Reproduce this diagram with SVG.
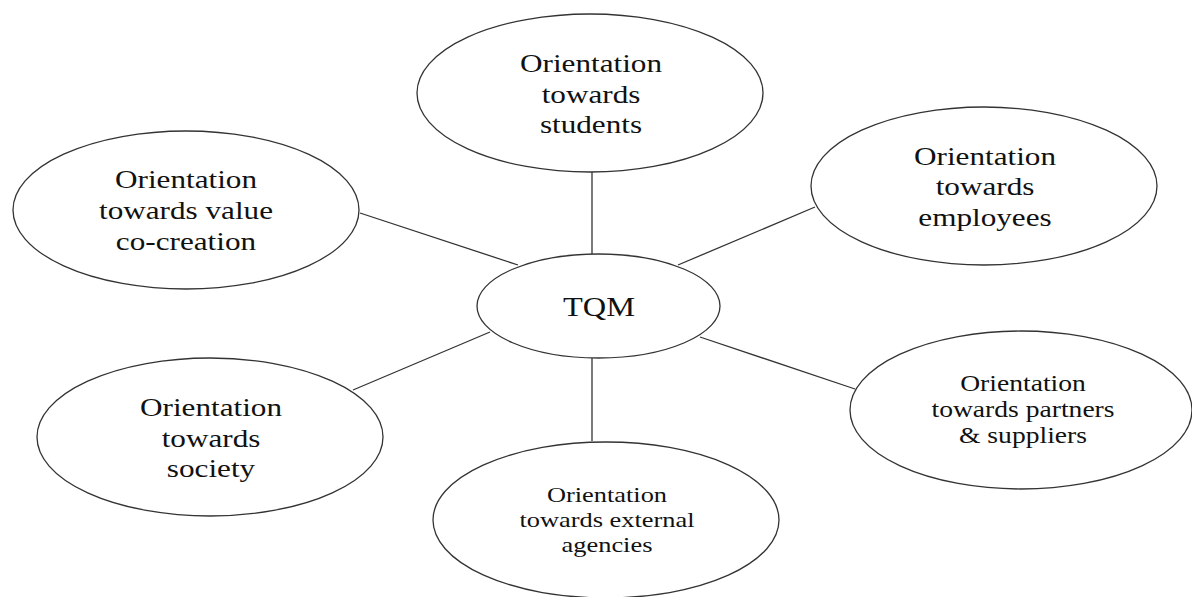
<svg xmlns="http://www.w3.org/2000/svg" width="1192" height="597" viewBox="0 0 1192 597">
<style>
.n{fill:#fff;stroke:#333;stroke-width:1.3}
.c{stroke:#333;stroke-width:1.3;fill:none}
text{font-family:"Liberation Serif","Times New Roman",serif;fill:#111;text-anchor:middle}
.f26{font-size:26px}
.f23{font-size:23px}
.f22{font-size:22px}
.f27{font-size:27px}
</style>
<rect width="1192" height="597" fill="#fff"/>
<g id="connectors">
<line class="c" x1="592" y1="172" x2="592" y2="254"/>
<line class="c" x1="592" y1="358" x2="592" y2="441"/>
<line class="c" x1="360" y1="213" x2="518" y2="265"/>
<line class="c" x1="678" y1="265" x2="815" y2="207"/>
<line class="c" x1="490" y1="332" x2="353" y2="390"/>
<line class="c" x1="700" y1="337" x2="855" y2="389"/>
</g>
<g id="students">
<ellipse class="n" cx="590" cy="93" rx="173" ry="79"/>
<text class="f26" transform="translate(591 0) scale(1.2 1)"><tspan x="0" y="72">Orientation</tspan><tspan x="0" y="103">towards</tspan><tspan x="0" y="133">students</tspan></text>
</g>
<g id="value-cocreation">
<ellipse class="n" cx="186" cy="210" rx="173" ry="79"/>
<text class="f26" transform="translate(186 0) scale(1.2 1)"><tspan x="0" y="188">Orientation</tspan><tspan x="0" y="219">towards value</tspan><tspan x="0" y="250">co-creation</tspan></text>
</g>
<g id="employees">
<ellipse class="n" cx="984" cy="186" rx="173" ry="79"/>
<text class="f26" transform="translate(985 0) scale(1.2 1)"><tspan x="0" y="165">Orientation</tspan><tspan x="0" y="195">towards</tspan><tspan x="0" y="226">employees</tspan></text>
</g>
<g id="tqm">
<ellipse class="n" cx="598.5" cy="306" rx="121.5" ry="52"/>
<text class="f27" transform="translate(599 0) scale(1.2 1)" x="0" y="316">TQM</text>
</g>
<g id="society">
<ellipse class="n" cx="210" cy="437" rx="173" ry="79"/>
<text class="f26" transform="translate(211 0) scale(1.2 1)"><tspan x="0" y="416">Orientation</tspan><tspan x="0" y="447">towards</tspan><tspan x="0" y="477">society</tspan></text>
</g>
<g id="partners">
<ellipse class="n" cx="1021" cy="410" rx="171" ry="79"/>
<text class="f23" transform="translate(1023 0) scale(1.2 1)"><tspan x="0" y="391">Orientation</tspan><tspan x="0" y="417">towards partners</tspan><tspan x="0" y="443">&amp; suppliers</tspan></text>
</g>
<g id="external-agencies">
<ellipse class="n" cx="606" cy="520" rx="173" ry="78"/>
<text class="f22" transform="translate(607 0) scale(1.2 1)"><tspan x="0" y="502">Orientation</tspan><tspan x="0" y="527">towards external</tspan><tspan x="0" y="552">agencies</tspan></text>
</g>
</svg>
